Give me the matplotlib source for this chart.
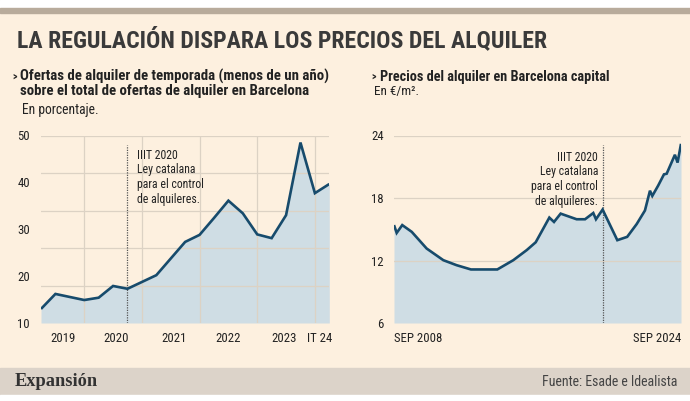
import matplotlib
matplotlib.use('Agg')
import matplotlib.pyplot as plt
from matplotlib import font_manager as fm
from matplotlib.patches import Rectangle
import numpy as np

# ---------------- data ----------------
# Left: share of seasonal rental offers (%), quarterly (IIT 2019 .. IIT 2024)
oferta_temporada = [13.0, 16.2, 15.55, 14.9, 15.4, 17.9, 17.3, 18.75, 20.2, 23.75,
                    27.3, 28.8, 32.4, 36.1, 33.4, 28.9, 28.1, 33.0, 48.5, 37.7, 39.65]
anios_izq = ['2019', '2020', '2021', '2022', '2023', 'IT 24']
yticks_izq = [10, 20, 30, 40, 50]

# Right: rental price Barcelona (EUR/m2)
fechas_der = [2008.67, 2008.82, 2009.13, 2009.66, 2010.49, 2011.42, 2012.16, 2012.96,
              2014.43, 2015.32, 2016.07, 2016.57, 2017.33, 2017.59, 2017.96, 2018.85,
              2019.32, 2019.78, 2019.93, 2020.30, 2021.12, 2021.67, 2022.20, 2022.66,
              2022.94, 2023.07, 2023.40, 2023.72, 2023.87, 2024.33, 2024.48, 2024.67]
precio_m2 = [15.4, 14.65, 15.4, 14.75, 13.15, 12.03, 11.55, 11.14, 11.14, 12.03,
             13.0, 13.75, 16.12, 15.7, 16.5, 15.96, 15.96, 16.56, 15.96, 16.89,
             13.95, 14.27, 15.5, 16.8, 18.7, 18.2, 19.2, 20.27, 20.33, 22.15, 21.4, 23.2]
yticks_der = [6, 12, 18, 24]
xlabels_der = ['SEP 2008', 'SEP 2024']
ley_fecha = 2020.30
nota = 'IIIT 2020\nLey catalana\npara el control\nde alquileres.'

# ---------------- fonts ----------------
names = {f.name for f in fm.fontManager.ttflist}
cands = ['Roboto Condensed', 'Liberation Sans Narrow', 'Open Sans Condensed',
         'Noto Sans Condensed', 'DejaVu Sans Condensed']
COND = next((c for c in cands if c in names), None)
if COND:
    FNT = dict(family=[COND, 'DejaVu Sans'])
else:
    FNT = dict(family=['DejaVu Sans'], stretch='condensed')

BG = '#fdf0df'
LINE = '#174b6c'
FILL = '#cfdde4'
GRID = '#dcd2c4'
TXT = '#222222'

W, H = 690, 401
fig = plt.figure(figsize=(W / 100, H / 100), dpi=100, facecolor=BG)

def fx(x):
    return x / W

def fy(y):
    return 1 - y / H

# bands
fig.patches.append(Rectangle((0, fy(8)), 1, 8 / H, transform=fig.transFigure,
                             color='white', zorder=0))
fig.patches.append(Rectangle((0, fy(13)), 1, 5 / H, transform=fig.transFigure,
                             color='#b8ab9b', zorder=0))
fig.patches.append(Rectangle((0, fy(395)), 1, 27 / H, transform=fig.transFigure,
                             color='#dcd3c9', zorder=0))
fig.patches.append(Rectangle((0, 0), 1, 6 / H, transform=fig.transFigure,
                             color='white', zorder=0))

# texts
fig.text(fx(17), fy(47), 'LA REGULACIÓN DISPARA LOS PRECIOS DEL ALQUILER',
         fontsize=17.1, fontweight='bold', color='#3a3a3a', va='baseline', **FNT)
fig.text(fx(12), fy(76.5), '>', fontsize=7, fontweight='bold', color=TXT, va='center', **FNT)
fig.text(fx(20.5), fy(76.5), 'Ofertas de alquiler de temporada (menos de un año)',
         fontsize=10.7, fontweight='bold', color=TXT, va='center', **FNT)
fig.text(fx(20.5), fy(91.5), 'sobre el total de ofertas de alquiler en Barcelona',
         fontsize=10.7, fontweight='bold', color=TXT, va='center', **FNT)
fig.text(fx(22), fy(110), 'En porcentaje.', fontsize=9.8, color=TXT, va='center', **FNT)

fig.text(fx(371), fy(76.5), '>', fontsize=7, fontweight='bold', color=TXT, va='center', **FNT)
fig.text(fx(379.5), fy(76.5), 'Precios del alquiler en Barcelona capital',
         fontsize=10.3, fontweight='bold', color=TXT, va='center', **FNT)
fig.text(fx(374), fy(92), 'En €/m².', fontsize=9.5, color=TXT, va='center', **FNT)

fig.text(fx(15), fy(381.5), 'Expansión', fontsize=13.2, fontweight='bold',
         family=['Liberation Serif', 'DejaVu Serif'], color='#333333', va='center')
fig.text(fx(677), fy(381.5), 'Fuente: Esade e Idealista', fontsize=10,
         color='#444444', va='center', ha='right', **FNT)

top, bot = 135.5, 323.0

# ---------------- left chart ----------------
axl = fig.add_axes([fx(41), fy(bot), fx(329.3 - 41), (bot - top) / H])
axl.set_facecolor('none')
xq = np.arange(len(oferta_temporada))
axl.fill_between(xq, oferta_temporada, 10, color=FILL, lw=0, zorder=1)
axl.plot(xq, oferta_temporada, color=LINE, lw=1.9, zorder=4,
         solid_joinstyle='miter', solid_capstyle='butt')
axl.set_xlim(0, len(oferta_temporada) - 1)
axl.set_ylim(10, 50)
for g in np.linspace(10, 50, 6)[1:]:
    axl.axhline(g, color=GRID, lw=0.9, zorder=2)
for q in [3, 7, 11, 15, 19]:
    axl.axvline(q, color=GRID, lw=0.9, zorder=2)
axl.axvline(6, ymax=0.949, color='#555555', lw=0.9, ls=(0, (1, 1)), zorder=3)
axl.text(6.64, 47.2, nota, fontsize=8.5, color=TXT, va='top', ha='left',
         linespacing=1.17, **FNT)
axl.set_yticks(yticks_izq)
axl.set_yticklabels([str(v) for v in yticks_izq])
axl.set_xticks([1.5, 5.2, 9.2, 13.0, 16.9, 19.3])
axl.set_xticklabels(anios_izq)

# ---------------- right chart ----------------
axr = fig.add_axes([fx(394), fy(bot), fx(681 - 394), (bot - top) / H])
axr.set_facecolor('none')
axr.fill_between(fechas_der, precio_m2, 6, color=FILL, lw=0, zorder=1)
axr.plot(fechas_der, precio_m2, color=LINE, lw=1.9, zorder=4,
         solid_joinstyle='miter', solid_capstyle='butt')
axr.set_xlim(fechas_der[0], fechas_der[-1])
axr.set_ylim(6, 24)
for g in yticks_der[1:]:
    axr.axhline(g, color=GRID, lw=0.9, zorder=2)
axr.axvline(ley_fecha, ymax=0.949, color='#555555', lw=0.9, ls=(0, (1, 1)), zorder=3)
axr.text(ley_fecha - 0.25, 22.55, nota, fontsize=8.5, color=TXT, va='top', ha='right',
         multialignment='right', linespacing=1.17, **FNT)
axr.set_yticks(yticks_der)
axr.set_yticklabels([str(v) for v in yticks_der])
axr.set_xticks([fechas_der[0], fechas_der[-1]])
axr.set_xticklabels(xlabels_der)
xl = axr.get_xticklabels()
xl[0].set_ha('left')
xl[1].set_ha('right')

for ax in (axl, axr):
    for s in ax.spines.values():
        s.set_visible(False)
    ax.tick_params(length=0, labelsize=9.2, labelcolor=TXT)
    ax.tick_params(axis='x', pad=6.5)
    for lab in ax.get_xticklabels() + ax.get_yticklabels():
        lab.set_family(FNT['family'])
        if 'stretch' in FNT:
            lab.set_stretch(FNT['stretch'])
axl.tick_params(axis='y', pad=8)
axr.tick_params(axis='y', pad=7.2)

fig.savefig('out.png', dpi=100, facecolor=BG)
